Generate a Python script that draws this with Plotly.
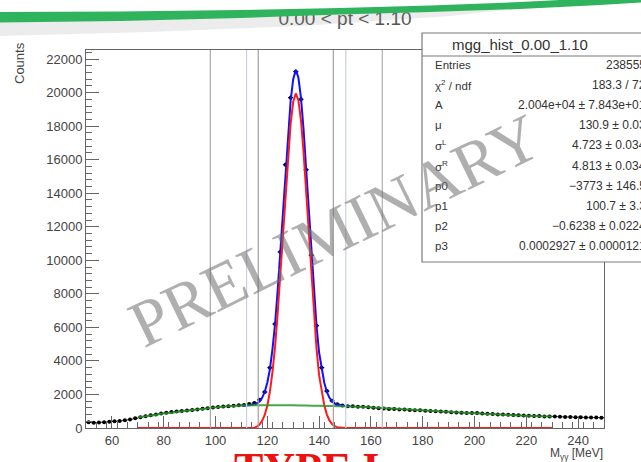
import plotly.graph_objects as go

# ---------------- data ----------------
bin_centers = [51, 53, 55, 57, 59, 61, 63, 65, 67, 69, 71, 73, 75, 77, 79, 81, 83, 85, 87, 89,
               91, 93, 95, 97, 99, 101, 103, 105, 107, 109, 111, 113, 115, 117, 119, 121, 123, 125, 127, 129,
               131, 133, 135, 137, 139, 141, 143, 145, 147, 149, 151, 153, 155, 157, 159, 161, 163, 165, 167, 169,
               171, 173, 175, 177, 179, 181, 183, 185, 187, 189, 191, 193, 195, 197, 199, 201, 203, 205, 207, 209,
               211, 213, 215, 217, 219, 221, 223, 225, 227, 229, 231, 233, 235, 237, 239, 241, 243, 245, 247, 249]
counts = [340, 310, 330, 350, 370, 400, 420, 460, 510, 580, 640, 700, 760, 800, 860, 910, 950, 990, 1020, 1050,
          1080, 1110, 1150, 1180, 1220, 1250, 1280, 1300, 1330, 1350, 1370, 1430, 1490, 1680, 2150, 3600, 6200, 10500, 15700, 19700,
          21250, 19600, 15400, 10300, 6100, 3600, 2200, 1620, 1420, 1340, 1300, 1290, 1270, 1260, 1230, 1210, 1180, 1170, 1140, 1130,
          1110, 1100, 1080, 1060, 1060, 1030, 1020, 1000, 980, 970, 940, 930, 910, 900, 890, 890, 860, 850, 830, 810,
          800, 790, 770, 760, 740, 730, 720, 710, 690, 680, 690, 670, 660, 660, 640, 640, 630, 620, 620, 610]
bin_half_width = 1

total_x = [110, 112, 114, 116, 117, 118, 119, 120, 121, 122, 123, 124, 125, 126, 127, 128, 129, 130, 131,
           132, 133, 134, 135, 136, 137, 138, 139, 140, 141, 142, 143, 144, 145, 146, 147, 148, 149, 150, 152]
total_y = [1340, 1350, 1375, 1460, 1580, 1800, 2150, 2700, 3500, 4700, 6200, 8200, 10500, 12900, 15400, 17600, 19500, 20800, 21350,
           20900, 19700, 17800, 15500, 12900, 10400, 8100, 6100, 4500, 3500, 2700, 2150, 1800, 1600, 1470, 1400, 1360, 1335, 1315, 1300]

signal_x = [70, 114, 115, 116, 117, 118, 119, 120, 121, 122, 123, 124, 125, 126, 127, 128, 129, 130, 131,
            132, 133, 134, 135, 136, 137, 138, 139, 140, 141, 142, 143, 144, 145, 146, 147, 148, 150, 230]
signal_y = [0, 0, 20, 80, 200, 430, 780, 1330, 2150, 3350, 4850, 6850, 9150, 11550, 14050, 16250, 18150, 19450, 19950,
            19550, 18350, 16450, 14150, 11550, 9050, 6750, 4750, 3150, 2150, 1350, 800, 450, 240, 110, 50, 20, 0, 0]

bkg_x = [70, 75, 80, 85, 90, 95, 100, 105, 110, 115, 120, 125, 130, 135, 140, 145, 150, 155, 160, 165,
         170, 175, 180, 185, 190, 195, 200, 205, 210, 215, 220, 225, 230]
bkg_y = [620, 740, 860, 960, 1050, 1130, 1230, 1290, 1340, 1360, 1360, 1355, 1350, 1340, 1325, 1310, 1290, 1265, 1230, 1190,
         1145, 1100, 1055, 1010, 965, 920, 880, 840, 800, 765, 735, 705, 680]

cut_lines = [98, 112, 116.5, 145.5, 150.3, 164.4]
cut_colors = ["#a8a8a8", "#c9cfdc", "#a0a0a0", "#a0a0a0", "#c9cfdc", "#b0b0b0"]

x_ticks = [60, 80, 100, 120, 140, 160, 180, 200, 220, 240]
y_ticks = [0, 2000, 4000, 6000, 8000, 10000, 12000, 14000, 16000, 18000, 20000, 22000]
y_tick_labels = ["0", "2000", "4000", "6000", "8000", "10000", "12000", "14000", "16000", "18000", "20000", "22000"]

title_text = "0.00 &lt; pt &lt; 1.10"
stats_title = "mgg_hist_0.00_1.10"
stats_labels = ["Entries", "χ<sup>2</sup> / ndf", "A", "μ", "σ<sup>L</sup>", "σ<sup>R</sup>", "p0", "p1", "p2", "p3"]
stats_values = ["238555", "183.3 / 72", "2.004e+04 ± 7.843e+01", "130.9 ± 0.03", "4.723 ± 0.034",
                "4.813 ± 0.034", "−3773 ± 146.5", "100.7 ± 3.3", "−0.6238 ± 0.0224", "0.0002927 ± 0.0000121"]

# ---------------- layout helpers (pixel -> paper) ----------------
W, H = 641, 462
L, R, T, B = 86, 37, 50, 34
PW, PH = W - L - R, H - T - B


def px(x):
    return (x - L) / PW


def py(y):
    return (H - B - y) / PH


fig = go.Figure()

fig.add_trace(go.Scatter(
    x=bin_centers, y=counts, mode="markers",
    marker=dict(color="black", size=4),
    error_y=dict(type="sqrt", color="black", thickness=1, width=0),
    error_x=dict(type="constant", value=bin_half_width, color="black", thickness=1, width=0),
    showlegend=False, hoverinfo="skip"))
fig.add_trace(go.Scatter(x=total_x, y=total_y, mode="lines",
                         line=dict(color="#1010ff", width=2), showlegend=False))
fig.add_trace(go.Scatter(x=signal_x, y=signal_y, mode="lines",
                         line=dict(color="#ff1a1a", width=2), showlegend=False))
fig.add_trace(go.Scatter(x=bkg_x, y=bkg_y, mode="lines", line_shape="spline",
                         line=dict(color="rgba(40,150,40,0.85)", width=2), showlegend=False))

shapes = []
for xv, c in zip(cut_lines, cut_colors):
    shapes.append(dict(type="line", xref="x", yref="paper", x0=xv, x1=xv, y0=0, y1=1,
                       line=dict(color=c, width=1.2), layer="above"))

# stats box
shapes.append(dict(type="rect", xref="paper", yref="paper", x0=px(422), x1=px(670), y0=py(262), y1=py(33),
                   fillcolor="white", line=dict(color="#7a7a7a", width=1.2), layer="above"))
shapes.append(dict(type="line", xref="paper", yref="paper", x0=px(422), x1=px(670), y0=py(56), y1=py(56),
                   line=dict(color="#7a7a7a", width=1.2), layer="above"))

# title as a shape label so the slide swoosh can pass over it
shapes.append(dict(type="rect", xref="paper", yref="paper", x0=px(240), x1=px(450), y0=py(27), y1=py(5),
                   fillcolor="rgba(0,0,0,0)", line=dict(width=0), layer="above",
                   label=dict(text=title_text, textposition="middle center",
                              font=dict(family="Liberation Sans, Arial", size=19, color="#555"))))


def path_from(points):
    s = "M " + " L ".join(f"{px(a):.4f},{py(b):.4f}" for a, b in points) + " Z"
    return s


# slide decoration: shadow and green swoosh
shadow = [(0, 20), (150, 19), (300, 16), (450, 10), (560, 4), (450, 16), (300, 26), (150, 32), (0, 36)]
shapes.append(dict(type="path", xref="paper", yref="paper", path=path_from(shadow),
                   fillcolor="rgba(150,150,150,0.18)", line=dict(width=0), layer="above"))
swoosh = [(-5, 12), (120, 11.5), (240, 10), (340, 8), (430, 5.5), (520, 2), (600, -2), (650, -5),
          (650, 2), (600, 5), (520, 9), (430, 12), (340, 14.5), (240, 18), (120, 21), (-5, 22.5)]
shapes.append(dict(type="path", xref="paper", yref="paper", path=path_from(swoosh),
                   fillcolor="#2fb35c", line=dict(width=0), layer="above"))

ann = []
ann.append(dict(x=px(520), y=py(45), xref="paper", yref="paper", text=stats_title,
                showarrow=False, font=dict(family="Liberation Sans, Arial", size=15, color="#333"),
                xanchor="center", yanchor="middle"))
for i, (lab, val) in enumerate(zip(stats_labels, stats_values)):
    yy = 65 + 20.1 * i
    ann.append(dict(x=px(433), y=py(yy), xref="paper", yref="paper", text=lab, showarrow=False,
                    font=dict(family="Liberation Sans, Arial", size=11.5, color="#333"),
                    xanchor="left", yanchor="middle"))
    ann.append(dict(x=px(648), y=py(yy), xref="paper", yref="paper", text=val, showarrow=False,
                    font=dict(family="Liberation Sans, Arial", size=12, color="#333"),
                    xanchor="right", yanchor="middle"))

ann.append(dict(x=px(20), y=py(40), xref="paper", yref="paper", text="Counts", textangle=-90,
                showarrow=False, font=dict(family="Liberation Sans, Arial", size=13, color="#444"),
                xanchor="center", yanchor="top"))
ann.append(dict(x=px(605), y=py(454), xref="paper", yref="paper", text="M<sub>γγ</sub> [MeV]",
                showarrow=False, font=dict(family="Liberation Sans, Arial", size=12, color="#444"),
                xanchor="right", yanchor="middle"))
ann.append(dict(x=px(306), y=py(468), xref="paper", yref="paper", text="<b>TYPE I</b>",
                showarrow=False, font=dict(family="Liberation Serif, Times New Roman", size=44, color="#ee1111"),
                xanchor="center", yanchor="middle"))
ann.append(dict(x=px(334), y=py(230), xref="paper", yref="paper", text="PRELIMINARY", textangle=-26,
                showarrow=False, font=dict(family="Liberation Serif, Times New Roman", size=66,
                                           color="rgba(110,110,110,0.55)"),
                xanchor="center", yanchor="middle"))

fig.update_layout(
    width=W, height=H, autosize=False,
    margin=dict(l=L, r=R, t=T, b=B, pad=0),
    paper_bgcolor="white", plot_bgcolor="white",
    shapes=shapes, annotations=ann,
    xaxis=dict(range=[50, 250], tickvals=x_ticks, ticks="inside", ticklen=12, tickcolor="#666",
               showline=True, linecolor="#666", linewidth=1, mirror=True, showgrid=False, zeroline=False,
               tickfont=dict(family="Liberation Sans, Arial", size=13, color="#444"),
               minor=dict(dtick=4, tick0=50, ticks="inside", ticklen=6, tickcolor="#666")),
    yaxis=dict(range=[0, 22540], tickvals=y_ticks, ticktext=y_tick_labels, ticks="inside", ticklen=13,
               tickcolor="#666",
               showline=True, linecolor="#666", linewidth=1, mirror=True, showgrid=False, zeroline=False,
               tickfont=dict(family="Liberation Sans, Arial", size=13, color="#444"),
               minor=dict(dtick=400, tick0=0, ticks="inside", ticklen=6, tickcolor="#666")),
)

fig.write_html("out.html")
